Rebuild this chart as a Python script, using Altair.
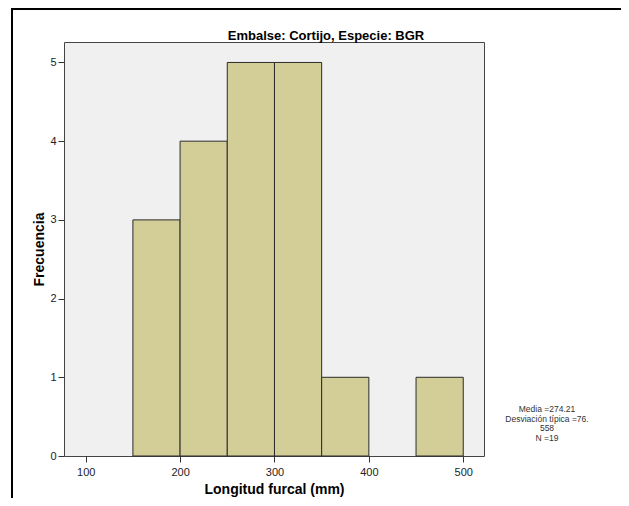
import altair as alt
import pandas as pd

bin_start = [150, 200, 250, 300, 350, 450]
bin_end = [200, 250, 300, 350, 400, 500]
counts = [3, 4, 5, 5, 1, 1]
x_ticks = [100, 200, 300, 400, 500]
y_ticks = [0, 1, 2, 3, 4, 5]
title_text = "Embalse: Cortijo, Especie: BGR"
stats_lines = ["Media =274.21", "Desviación típica =76.", "558", "N =19"]

df = pd.DataFrame({"start": bin_start, "end": bin_end, "count": counts})
FONT = "Liberation Sans"

x_scale = alt.Scale(domain=[77, 522], nice=False, zero=False)
y_scale = alt.Scale(domain=[0, 5.26], nice=False)

bars = alt.Chart(df).mark_bar(
    color="#d3ce97", stroke="#2b2b2b", strokeWidth=1, opacity=1
).encode(
    x=alt.X("start:Q", scale=x_scale,
            axis=alt.Axis(values=x_ticks, title="Longitud furcal (mm)", grid=False,
                          domain=False, tickColor="#333333", tickSize=6,
                          labelFont=FONT, labelFontSize=11, labelColor="#222222",
                          labelPadding=4, titleFont=FONT, titleFontSize=14,
                          titleFontWeight="bold", titleColor="#000000", titlePadding=5)),
    x2="end:Q",
    y=alt.Y("count:Q", scale=y_scale,
            axis=alt.Axis(values=y_ticks, title="Frecuencia", grid=False,
                          domain=False, tickColor="#333333", tickSize=6,
                          labelFont=FONT, labelFontSize=11, labelColor="#222222",
                          labelPadding=2, titleFont=FONT, titleFontSize=14,
                          titleFontWeight="bold", titleColor="#000000", titlePadding=3)),
    y2=alt.datum(0),
)

title_df = pd.DataFrame({"t": [title_text]})
title_mark = alt.Chart(title_df).mark_text(
    font=FONT, fontSize=13, fontWeight="bold", color="#000000",
    align="center", baseline="alphabetic"
).encode(text="t:N", x=alt.value(262), y=alt.value(-2))

stats_df = pd.DataFrame({"t": ["\n".join(stats_lines)]})
stats_mark = alt.Chart(stats_df).mark_text(
    font=FONT, fontSize=8.5, color="#333333",
    align="center", baseline="top", lineBreak="\n", lineHeight=9.5
).encode(text="t:N", x=alt.value(483), y=alt.value(363))

frame_top = alt.Chart(title_df).mark_rule(color="#000000", strokeWidth=2).encode(
    x=alt.value(-53), x2=alt.value(600), y=alt.value(-33))
frame_left = alt.Chart(title_df).mark_rule(color="#000000", strokeWidth=2).encode(
    x=alt.value(-52), y=alt.value(-34), y2=alt.value(600))

chart = alt.layer(bars, title_mark, stats_mark, frame_top, frame_left).properties(
    width=420, height=414,
    background="#ffffff",
    autosize=alt.AutoSizeParams(type="none"),
    padding={"left": 56, "top": 34, "right": 137, "bottom": 42},
).configure_view(
    fill="#f0f0f0", stroke="#444444", strokeWidth=1
)

chart.save("out.html", embed_options={"renderer": "svg", "actions": False})
